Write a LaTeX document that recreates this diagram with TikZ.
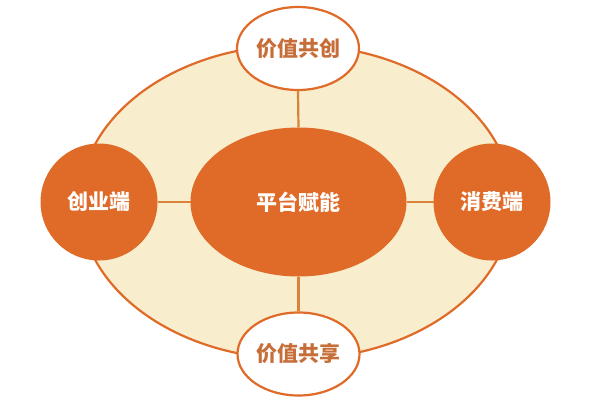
\documentclass[tikz,border=0pt]{standalone}
\usepackage{fontspec}
\newfontfamily\cjk{Noto Sans CJK SC}
\usetikzlibrary{shapes.geometric}
\definecolor{mainorange}{HTML}{E06A28}
\definecolor{paleyellow}{HTML}{F8EDCD}
\definecolor{linecol}{HTML}{D9823A}
\definecolor{textbrown}{HTML}{C66D38}
\tikzset{
  ring/.style={ellipse, draw=mainorange, line width=2.2pt, fill=paleyellow, inner sep=0pt},
  hub/.style={ellipse, draw=mainorange, line width=1pt, fill=mainorange, text=white, inner sep=0pt,
    font=\cjk\bfseries\fontsize{21}{24}\selectfont},
  side/.style={circle, draw=mainorange, line width=1pt, fill=mainorange, text=white, inner sep=0pt,
    minimum size=116pt, font=\cjk\bfseries\fontsize{21}{24}\selectfont},
  valuenode/.style={ellipse, draw=mainorange, line width=2.2pt, fill=white, text=textbrown, inner sep=0pt,
    minimum width=122pt, minimum height=83pt, font=\cjk\bfseries\fontsize{21}{24}\selectfont},
  link/.style={draw=linecol, line width=2.2pt}
}
\begin{document}
\begin{tikzpicture}[x=1pt,y=-1pt]
\useasboundingbox (0,0) rectangle (600,400);
\node[ring, minimum width=432pt, minimum height=314pt] (ring) at (296,202) {};
\node[hub, minimum width=215pt, minimum height=148pt] (hub) at (298.5,202) {平台赋能};
\node[side] (left) at (99,202) {创业端};
\node[side] (right) at (492,202) {消费端};
\node[valuenode] (top) at (298,48.5) {价值共创};
\node[valuenode] (bottom) at (298.5,354) {价值共享};
\draw[link] (top.south) -- (hub.north);
\draw[link] (hub.south) -- (bottom.north);
\draw[link] (left.east) -- (hub.west);
\draw[link] (hub.east) -- (right.west);
\end{tikzpicture}
\end{document}
